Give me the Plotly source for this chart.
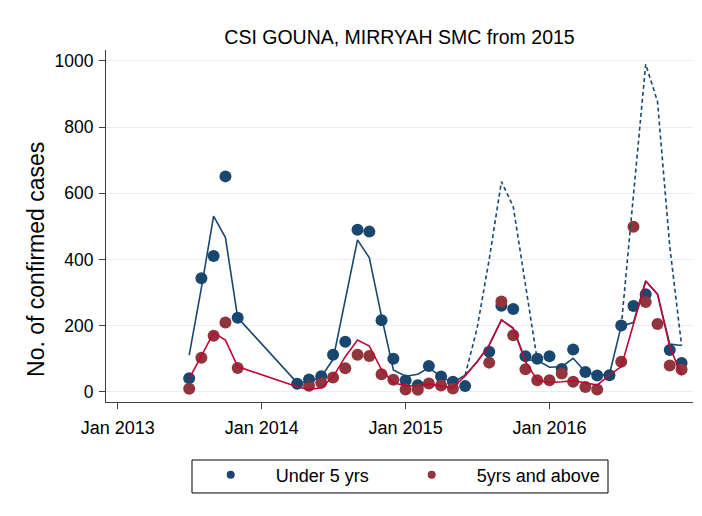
import plotly.graph_objects as go

# ---------------- data ----------------
title_text = "CSI GOUNA, MIRRYAH SMC from 2015"
y_title = "No. of confirmed cases"
legend_names = ["Under 5 yrs", "5yrs and above"]
x_tick_vals = ["2013-01-01", "2014-01-01", "2015-01-01", "2016-01-01"]
x_tick_labels = ["Jan 2013", "Jan 2014", "Jan 2015", "Jan 2016"]
y_tick_vals = [0, 200, 400, 600, 800, 1000]

# observed points, Under 5 yrs
u5_months = ["2013-07", "2013-08", "2013-09", "2013-10", "2013-11",
             "2014-04", "2014-05", "2014-06", "2014-07", "2014-08", "2014-09",
             "2014-10", "2014-11", "2014-12",
             "2015-01", "2015-02", "2015-03", "2015-04", "2015-05", "2015-06",
             "2015-08", "2015-09", "2015-10", "2015-11", "2015-12",
             "2016-01", "2016-02", "2016-03", "2016-04", "2016-05", "2016-06",
             "2016-07", "2016-08", "2016-09", "2016-11", "2016-12"]
u5_cases = [41, 343, 410, 651, 224,
            24, 37, 47, 112, 151, 490, 484, 216, 100,
            34, 20, 78, 46, 30, 17,
            121, 260, 250, 107, 100,
            107, 69, 128, 60, 49, 50,
            200, 259, 295, 126, 87]

# observed points, 5 yrs and above
o5_months = ["2013-07", "2013-08", "2013-09", "2013-10", "2013-11",
             "2014-05", "2014-06", "2014-07", "2014-08", "2014-09", "2014-10",
             "2014-11", "2014-12",
             "2015-01", "2015-02", "2015-03", "2015-04", "2015-05",
             "2015-08", "2015-09", "2015-10", "2015-11", "2015-12",
             "2016-01", "2016-02", "2016-03", "2016-04", "2016-05",
             "2016-07", "2016-08", "2016-09", "2016-10", "2016-11", "2016-12"]
o5_cases = [9, 103, 169, 209, 72,
            18, 27, 43, 71, 112, 108, 53, 36,
            7, 6, 25, 19, 10,
            88, 273, 171, 68, 35,
            35, 55, 30, 14, 7,
            91, 499, 271, 205, 79, 67]

# solid line, Under 5 yrs
u5_line_months = ["2013-07", "2013-08", "2013-09", "2013-10", "2013-11",
                  "2014-04", "2014-05", "2014-06", "2014-07", "2014-08", "2014-09",
                  "2014-10", "2014-11", "2014-12",
                  "2015-01", "2015-02", "2015-03", "2015-04", "2015-05", "2015-06",
                  "2015-07", "2015-08", "2015-09", "2015-10", "2015-11", "2015-12",
                  "2016-01", "2016-02", "2016-03", "2016-04", "2016-05", "2016-06",
                  "2016-07", "2016-08", "2016-09", "2016-10", "2016-11", "2016-12"]
u5_line = [111, 314, 531, 466, 224,
           27, 30, 45, 98, 281, 459, 405, 227, 66,
           47, 53, 73, 45, 28, 50,
           90, 141, 217, 192, 96, 95,
           74, 76, 101, 60, 50, 53,
           199, 209, 335, 295, 144, 140]

# solid line, 5 yrs and above
o5_line_months = u5_line_months
o5_line = [40, 111, 178, 156, 76,
           15, 7, 12, 45, 106, 156, 138, 66, 27,
           18, 18, 23, 17, 12, 48,
           90, 141, 217, 192, 91, 35,
           28, 30, 33, 27, 20, 50,
           76, 205, 335, 295, 136, 50]

# dashed line, Under 5 yrs
dash_months = ["2015-06", "2015-07", "2015-08", "2015-09", "2015-10", "2015-11", "2015-12",
               "2016-06",
               "2016-07", "2016-08", "2016-09", "2016-10", "2016-11", "2016-12"]
dash_vals = [50, 190, 400, 635, 560, 320, 95,
             None,
             199, 590, 990, 877, 440, 140]

# ---------------- style ----------------
NAVY = "#1a476f"
MAROON = "#90353b"
CRAN = "#c10534"
AXIS = "#404040"
FONT = "Liberation Sans, Arial, sans-serif"

fig = go.Figure()

fig.add_trace(go.Scatter(x=u5_months, y=u5_cases, mode="markers",
                         marker=dict(color=NAVY, size=12), showlegend=False))
fig.add_trace(go.Scatter(x=o5_months, y=o5_cases, mode="markers",
                         marker=dict(color=MAROON, size=12), showlegend=False))
fig.add_trace(go.Scatter(x=dash_months, y=dash_vals, mode="lines", connectgaps=False,
                         line=dict(color=NAVY, width=1.6, dash="4px,3px"), showlegend=False))
fig.add_trace(go.Scatter(x=u5_line_months, y=u5_line, mode="lines",
                         line=dict(color=NAVY, width=1.6), showlegend=False))
fig.add_trace(go.Scatter(x=o5_line_months, y=o5_line, mode="lines",
                         line=dict(color=CRAN, width=1.6), showlegend=False))

# legend entries (one per legend box so both can be placed exactly)
fig.add_trace(go.Scatter(x=[None], y=[None], mode="markers", legend="legend",
                         marker=dict(color=NAVY, size=8), name=legend_names[0]))
fig.add_trace(go.Scatter(x=[None], y=[None], mode="markers", legend="legend2",
                         marker=dict(color=MAROON, size=8), name=legend_names[1]))

legend_common = dict(orientation="h", y=-0.155, yanchor="top", xanchor="left",
                     borderwidth=0, bgcolor="rgba(0,0,0,0)",
                     itemwidth=80, font=dict(size=18))

fig.update_layout(
    width=702, height=516,
    margin=dict(l=98, r=17, t=42, b=122),
    paper_bgcolor="white", plot_bgcolor="white",
    font=dict(family=FONT, size=17, color="black"),
    title=dict(text=title_text, x=0.5, xref="paper", xanchor="center",
               y=1 - 29 / 516, yref="container", yanchor="middle",
               font=dict(size=19.5, color="black")),
    legend=dict(x=0.1358, **legend_common),
    legend2=dict(x=0.4782, **legend_common),
    xaxis=dict(type="date", range=["2012-12-02", "2016-12-30"],
               tickvals=x_tick_vals, ticktext=x_tick_labels,
               ticks="outside", ticklen=6, tickcolor=AXIS, ticklabelstandoff=3,
               showline=True, linecolor=AXIS, linewidth=1,
               showgrid=False, zeroline=False, tickfont=dict(size=18)),
    yaxis=dict(range=[-31, 1033], tickvals=y_tick_vals,
               ticks="outside", ticklen=6, tickcolor=AXIS, ticklabelstandoff=2,
               showline=True, linecolor=AXIS, linewidth=1,
               showgrid=True, gridcolor="#e6eef1", gridwidth=1, zeroline=False,
               tickfont=dict(size=17.5)),
    shapes=[dict(type="rect", xref="paper", yref="paper",
                 x0=0.1465, x1=0.8552, y0=-0.1648, y1=-0.2585,
                 line=dict(color="black", width=1), fillcolor="rgba(0,0,0,0)")],
    annotations=[dict(text=y_title, xref="paper", yref="paper",
                      x=-0.1193, y=0.4063, xanchor="center", yanchor="middle",
                      textangle=-90, showarrow=False, font=dict(size=23))],
    hovermode=False,
)

fig.write_html("out.html")
